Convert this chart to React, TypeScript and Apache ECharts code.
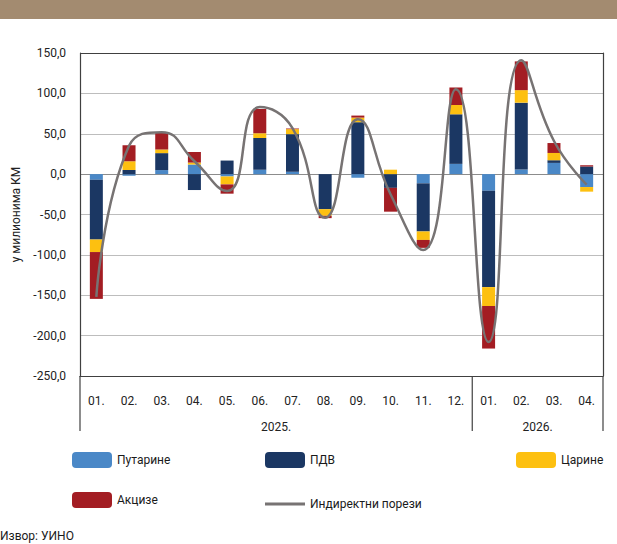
import React, { useEffect, useRef } from "react";
import * as echarts from "echarts";

const months = ["01.", "02.", "03.", "04.", "05.", "06.", "07.", "08.", "09.", "10.", "11.", "12.", "01.", "02.", "03.", "04."];
const years = ["2025.", "2026."];
const monthsPerYear = [12, 4];

const putarine = [-7, -2, 5, 11.9, -2.9, 5.3, 2.9, 0, -4.5, 0, -11.4, 12.7, -20.6, 5.7, 13.9, -16];
const pdv = [-74, 5, 21, -19.7, 16.8, 39.3, 46.6, -43.4, 64.3, -17, -59.6, 61.4, -119.3, 82.8, 3.3, 9.4];
const carine = [-15.5, 11, 4.5, 2.4, -9.8, 6, 6.2, -8.2, 5.7, 5.5, -10.5, 11.5, -23.4, 15.5, 9, -5.7];
const akcize = [-58, 19.7, 21, 13.1, -11.5, 30, 0.8, -2.9, 2.5, -29.5, -9.8, 21.7, -52.7, 35.6, 12.3, 1.6];
const indirektni = [-152, 35, 52, 16, -21, 83, 57, -54, 68, -25, -94, 105, -208, 141, 41, -13];

const FONT = "Roboto";
const AXIS_DARK = "#404040";
const LINE_GRAY = "#777373";

export default function App() {
  const ref = useRef<HTMLDivElement>(null);
  useEffect(() => {
    if (!ref.current) return;
    const chart = echarts.init(ref.current, null, { renderer: "svg" });

    const yearAxisData: string[] = [];
    const boundaries: number[] = [0];
    let acc = 0;
    monthsPerYear.forEach((m) => { acc += m; boundaries.push(acc); });
    for (let i = 0; i <= months.length; i++) yearAxisData.push("");
    years.forEach((y, k) => {
      const mid = (boundaries[k] + boundaries[k + 1]) / 2;
      yearAxisData[mid] = y;
    });

    const mkBar = (name: string, data: number[], color: string) => ({
      name,
      type: "bar",
      stack: "total",
      data,
      barWidth: 13,
      itemStyle: { color },
      xAxisIndex: 0,
      yAxisIndex: 0,
    });

    const legendBase = {
      padding: 0,
      itemWidth: 40,
      itemHeight: 16,
      textStyle: { fontFamily: FONT, fontSize: 12, color: "#1a1a1a" },
      selectedMode: false,
    };

    const baseGraphic: any[] = [
      { type: "rect", left: 0, top: 0, shape: { width: 617, height: 19 }, style: { fill: "#A38B70" } },
      { type: "text", left: 0, top: 530, style: { text: "Извор: УИНО", fontFamily: FONT, fontSize: 12, fill: "#1a1a1a" } },
    ];

    chart.setOption({
      animation: false,
      backgroundColor: "#ffffff",
      textStyle: { fontFamily: FONT },
      graphic: baseGraphic,
      grid: { left: 80, right: 14, top: 53, bottom: 168 },
      legend: [
        { ...legendBase, data: ["Путарине"], left: 72, top: 452 },
        { ...legendBase, data: ["ПДВ"], left: 265, top: 452 },
        { ...legendBase, data: ["Царине"], left: 516, top: 452 },
        { ...legendBase, data: ["Акцизе"], left: 72, top: 492 },
        {
          ...legendBase,
          itemHeight: 3,
          data: [{ name: "Индиректни порези", icon: "rect", itemStyle: { color: LINE_GRAY } }],
          left: 265,
          top: 498,
        },
      ],
      xAxis: [
        {
          type: "category",
          data: months,
          position: "bottom",
          axisLine: { show: true, onZero: false, lineStyle: { color: AXIS_DARK, width: 1.2 } },
          axisTick: { show: false },
          axisLabel: { interval: 0, margin: 19, fontFamily: FONT, fontSize: 12, color: "#222" },
          splitLine: { show: false },
        },
        {
          type: "category",
          data: yearAxisData,
          boundaryGap: false,
          position: "bottom",
          offset: 0,
          axisLine: { show: false, onZero: false },
          axisTick: { show: false },
          axisLabel: {
            interval: (_i: number, v: string) => v !== "",
            margin: 45,
            fontFamily: FONT,
            fontSize: 12,
            color: "#222",
          },
          splitLine: { show: false },
        },
      ],
      yAxis: [
        {
          type: "value",
          min: -250,
          max: 150,
          interval: 50,
          name: "у милионима КМ",
          nameLocation: "middle",
          nameGap: 58,
          nameTextStyle: { fontFamily: FONT, fontSize: 12, color: "#222" },
          axisLine: { show: true, lineStyle: { color: AXIS_DARK, width: 1.2 } },
          axisTick: { show: false },
          axisLabel: {
            fontFamily: FONT,
            fontSize: 12,
            color: "#222",
            margin: 14,
            formatter: (v: number) => v.toFixed(1).replace(".", ","),
          },
          splitLine: {
            show: true,
            lineStyle: {
              color: [AXIS_DARK, "#bdbdbd", "#bdbdbd", "#bdbdbd", "#bdbdbd", "#8c8c8c", "#bdbdbd", "#bdbdbd", AXIS_DARK],
              width: 1.2,
            },
          },
        },
        {
          type: "value",
          position: "right",
          min: -250,
          max: 150,
          interval: 50,
          axisLine: { show: true, lineStyle: { color: AXIS_DARK, width: 1.2 } },
          axisTick: { show: false },
          axisLabel: { show: false },
          splitLine: { show: false },
        },
      ],
      series: [
        mkBar("Путарине", putarine, "#4A88C7"),
        mkBar("ПДВ", pdv, "#1B3763"),
        mkBar("Царине", carine, "#FDC010"),
        mkBar("Акцизе", akcize, "#A31D23"),
        {
          name: "Индиректни порези",
          type: "line",
          data: indirektni,
          smooth: 0.5,
          symbol: "none",
          showSymbol: false,
          xAxisIndex: 0,
          yAxisIndex: 0,
          lineStyle: { color: LINE_GRAY, width: 2.5 },
          itemStyle: { color: LINE_GRAY },
          z: 5,
        },
      ],
    });

    // year separators, positioned through the axes' own scales
    const yBottom = chart.convertToPixel({ yAxisIndex: 0 }, -250) as number;
    const sepGraphic = boundaries.map((b) => {
      const x = chart.convertToPixel({ xAxisIndex: 1 }, b) as number;
      return {
        type: "line",
        shape: { x1: x, y1: yBottom, x2: x, y2: yBottom + 55 },
        style: { stroke: AXIS_DARK, lineWidth: 1.2 },
        silent: true,
      };
    });
    chart.setOption({ graphic: [...baseGraphic, ...sepGraphic] });

    return () => chart.dispose();
  }, []);
  return (
    <div
      ref={ref}
      style={{ position: "fixed", left: 0, top: 0, width: 617, height: 544, background: "#fff" }}
    />
  );
}
